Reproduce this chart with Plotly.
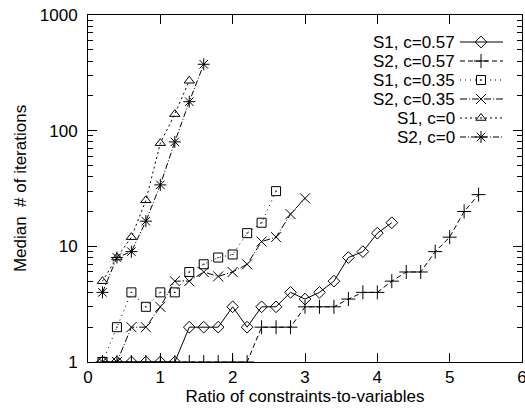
import math
import plotly.graph_objects as go

# ---- data ----
s1_057_x = [0.2, 0.4, 0.6, 0.8, 1.0, 1.2, 1.4, 1.6, 1.8, 2.0, 2.2, 2.4, 2.6, 2.8, 3.0, 3.2, 3.4, 3.6, 3.8, 4.0, 4.2]
s1_057_y = [1, 1, 1, 1, 1, 1, 2, 2, 2, 3, 2, 3, 3, 4, 3.5, 4, 5, 8, 9, 13, 16]

s2_057_x = [0.2, 0.4, 0.6, 0.8, 1.0, 1.2, 1.4, 1.6, 1.8, 2.0, 2.2, 2.4, 2.6, 2.8, 3.0, 3.2, 3.4, 3.6, 3.8, 4.0,
            4.2, 4.4, 4.6, 4.8, 5.0, 5.2, 5.4]
s2_057_y = [1, 1, 1, 1, 1, 1, 1, 1, 1, 1, 1, 2, 2, 2, 3, 3, 3, 3.5, 4, 4, 5, 6, 6, 9, 12, 20, 28]

s1_035_x = [0.2, 0.4, 0.6, 0.8, 1.0, 1.2, 1.4, 1.6, 1.8, 2.0, 2.2, 2.4, 2.6]
s1_035_y = [1, 2, 4, 3, 4, 4, 6, 7, 8, 8.5, 13, 16, 30]

s2_035_x = [0.2, 0.4, 0.6, 0.8, 1.0, 1.2, 1.4, 1.6, 1.8, 2.0, 2.2, 2.4, 2.6, 2.8, 3.0]
s2_035_y = [1, 1, 2, 2, 3, 5, 5, 6, 5.5, 6, 7, 11, 12, 19, 26]

s1_0_x = [0.2, 0.4, 0.6, 0.8, 1.0, 1.2, 1.4]
s1_0_y = [5, 8, 12, 25, 78, 139, 270]

s2_0_x = [0.2, 0.4, 0.6, 0.8, 1.0, 1.2, 1.4, 1.6]
s2_0_y = [4, 8, 9, 16.5, 34, 80, 178, 375]

series_names = ["S1, c=0.57", "S2, c=0.57", "S1, c=0.35", "S2, c=0.35", "S1, c=0", "S2, c=0"]
x_tick_vals = [0, 1, 2, 3, 4, 5, 6]
y_minor_vals = [m * 10 ** e for e in range(3) for m in range(2, 10)]

# ---- styles ----
styles = [
    dict(dash="solid", symbol="diamond-open", size=9),
    dict(dash="5px,3px", symbol="cross-thin-open", size=10),
    dict(dash="1px,4px", symbol="square-open-dot", size=9),
    dict(dash="7px,2px,1px,2px", symbol="x-thin-open", size=10),
    dict(dash="2px,3px", symbol="triangle-up-open", size=9),
    dict(dash="6px,2px,1px,2px", symbol="asterisk-open", size=10),
]
data = [(s1_057_x, s1_057_y), (s2_057_x, s2_057_y), (s1_035_x, s1_035_y),
        (s2_035_x, s2_035_y), (s1_0_x, s1_0_y), (s2_0_x, s2_0_y)]

W, H = 525, 411
ML, MR, MT, MB = 88, 3, 15, 49
FONT = "Liberation Sans, Arial, sans-serif"
FS = 17
X_RANGE = [0, 6]
LOGY_RANGE = [0, 3]
pw, ph = W - ML - MR, H - MT - MB


def px_to_x(px):
    return X_RANGE[0] + (px - ML) / pw * (X_RANGE[1] - X_RANGE[0])


def py_to_logy(py):
    return LOGY_RANGE[0] + (H - MB - py) / ph * (LOGY_RANGE[1] - LOGY_RANGE[0])


fig = go.Figure()
for (xs, ys), st, name in zip(data, styles, series_names):
    fig.add_trace(go.Scatter(
        x=xs, y=ys, mode="lines+markers", name=name, showlegend=False,
        line=dict(color="black", width=1, dash=st["dash"]),
        marker=dict(symbol=st["symbol"], size=st["size"], color="black",
                    line=dict(color="black", width=1)),
    ))

# ---- gnuplot-style key: text right-aligned, line sample with its marker on the right ----
key_top = 42
key_step = 19
for i, (st, name) in enumerate(zip(styles, series_names)):
    ry = key_top + i * key_step
    ly = py_to_logy(ry)
    fig.add_trace(go.Scatter(
        x=[px_to_x(460), px_to_x(503)], y=[10 ** ly, 10 ** ly], mode="lines", showlegend=False,
        line=dict(color="black", width=1, dash=st["dash"]), hoverinfo="skip"))
    fig.add_trace(go.Scatter(
        x=[px_to_x(481)], y=[10 ** ly], mode="markers", showlegend=False,
        marker=dict(symbol=st["symbol"], size=st["size"], color="black",
                    line=dict(color="black", width=1)), hoverinfo="skip"))
    fig.add_annotation(x=px_to_x(457), y=ly, xref="x", yref="y", text=name, showarrow=False,
                       xanchor="right", yanchor="middle", font=dict(size=FS, color="black", family=FONT))

fig.update_layout(
    width=W, height=H,
    margin=dict(l=ML, r=MR, t=MT, b=MB, autoexpand=False),
    paper_bgcolor="white", plot_bgcolor="rgba(0,0,0,0)",
    font=dict(family=FONT, size=FS, color="black"),
    xaxis=dict(range=X_RANGE, tickvals=x_tick_vals, ticks="inside", ticklen=9, tickcolor="black", tickwidth=1,
               showline=True, linecolor="black", linewidth=1, mirror="allticks", showgrid=False,
               zeroline=False, tickfont=dict(size=FS), automargin=False, ticklabeloverflow="allow",
               title=dict(text="Ratio of constraints-to-variables", font=dict(size=FS), standoff=0)),
    yaxis=dict(type="log", range=LOGY_RANGE, dtick=1,
               ticks="inside", ticklen=9, tickcolor="black", tickwidth=1, ticklabelstandoff=6,
               showline=True, linecolor="black", linewidth=1, mirror="allticks", showgrid=False,
               zeroline=False, tickfont=dict(size=FS), automargin=False,
               minor=dict(ticks="inside", ticklen=5, tickcolor="black", tickwidth=1, tickvals=y_minor_vals,
                          showgrid=False),
               title=dict(text="Median\u00a0 # of iterations", font=dict(size=FS), standoff=8)),
)

fig.write_html("out.html", config={"displayModeBar": False},
               post_script="document.body.style.margin='0px';document.body.style.overflow='hidden';")
